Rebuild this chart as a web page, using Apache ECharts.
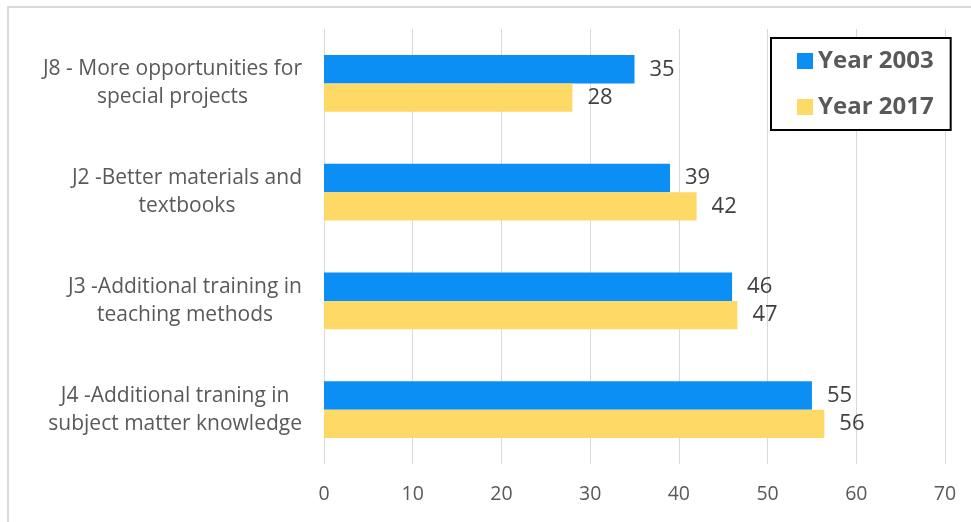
<!DOCTYPE html>
<html>
<head>
<meta charset="utf-8">
<script src="https://cdn.jsdelivr.net/npm/echarts@6/dist/echarts.min.js"></script>
<style>html,body{margin:0;padding:0;background:#fff}#c{width:971px;height:522px}</style>
</head>
<body>
<div id="c"></div>
<script>
var categories = [
  "J8 - More opportunities for\nspecial projects",
  "J2 -Better materials and\ntextbooks",
  "J3 -Additional training in\nteaching methods",
  "J4 -Additional traning in\nsubject matter knowledge"
];
var seriesNames = ["Year 2003", "Year 2017"];
var year2003 = [35, 39, 46, 55];
var year2017 = [28, 42, 46.6, 56.4];
var xTicks = [0, 10, 20, 30, 40, 50, 60, 70];

var FONT = '"Open Sans", "Noto Sans", sans-serif';
var chart = echarts.init(document.getElementById('c'), null, {renderer: 'canvas'});

function labelFmt(p) { return String(Math.round(p.value)); }

chart.setOption({
  animation: false,
  backgroundColor: '#fff',
  graphic: [{
    type: 'rect', silent: true, z: -10,
    shape: {x: 8, y: 7, width: 1000, height: 1000},
    style: {fill: 'none', stroke: '#d9d9d9', lineWidth: 2}
  }],
  grid: {left: 324, right: 26, top: 29, bottom: 58, containLabel: false},
  legend: {
    orient: 'vertical',
    left: 771, top: 38,
    padding: [11, 17, 11, 26],
    itemGap: 22,
    itemWidth: 16, itemHeight: 16,
    borderColor: '#000', borderWidth: 2,
    backgroundColor: '#fff',
    icon: 'rect',
    textStyle: {fontFamily: FONT, fontSize: 24, fontWeight: 'bold', color: '#595959', lineHeight: 22},
    data: seriesNames
  },
  xAxis: {
    type: 'value', min: 0, max: 70, interval: 10,
    axisLine: {show: false}, axisTick: {show: false},
    splitLine: {show: true, lineStyle: {color: '#d9d9d9', width: 1}},
    axisLabel: {
      fontFamily: FONT, fontSize: 19.5, color: '#595959', margin: 20,
      formatter: function (v) { return xTicks.indexOf(v) >= 0 ? String(v) : ''; }
    }
  },
  yAxis: {
    type: 'category', inverse: true, data: categories,
    axisLine: {show: false}, axisTick: {show: false},
    axisLabel: {
      margin: 22, align: 'right',
      formatter: function (v) {
        return v.split('\n').map(function (s) { return '{a|' + s + '}'; }).join('\n');
      },
      rich: {a: {fontFamily: FONT, fontSize: 21, color: '#595959', lineHeight: 28, align: 'center'}}
    }
  },
  series: [{
    name: seriesNames[0], type: 'bar', data: year2003,
    barGap: '0%', barCategoryGap: '48%',
    itemStyle: {color: '#0B8FF5'},
    label: {show: true, position: 'right', distance: 15, formatter: labelFmt,
            fontFamily: FONT, fontSize: 22, color: '#404040'}
  }, {
    name: seriesNames[1], type: 'bar', data: year2017,
    barGap: '0%', barCategoryGap: '48%',
    itemStyle: {color: '#FFD966'},
    label: {show: true, position: 'right', distance: 15, formatter: labelFmt,
            fontFamily: FONT, fontSize: 22, color: '#404040'}
  }]
});
</script>
</body>
</html>
